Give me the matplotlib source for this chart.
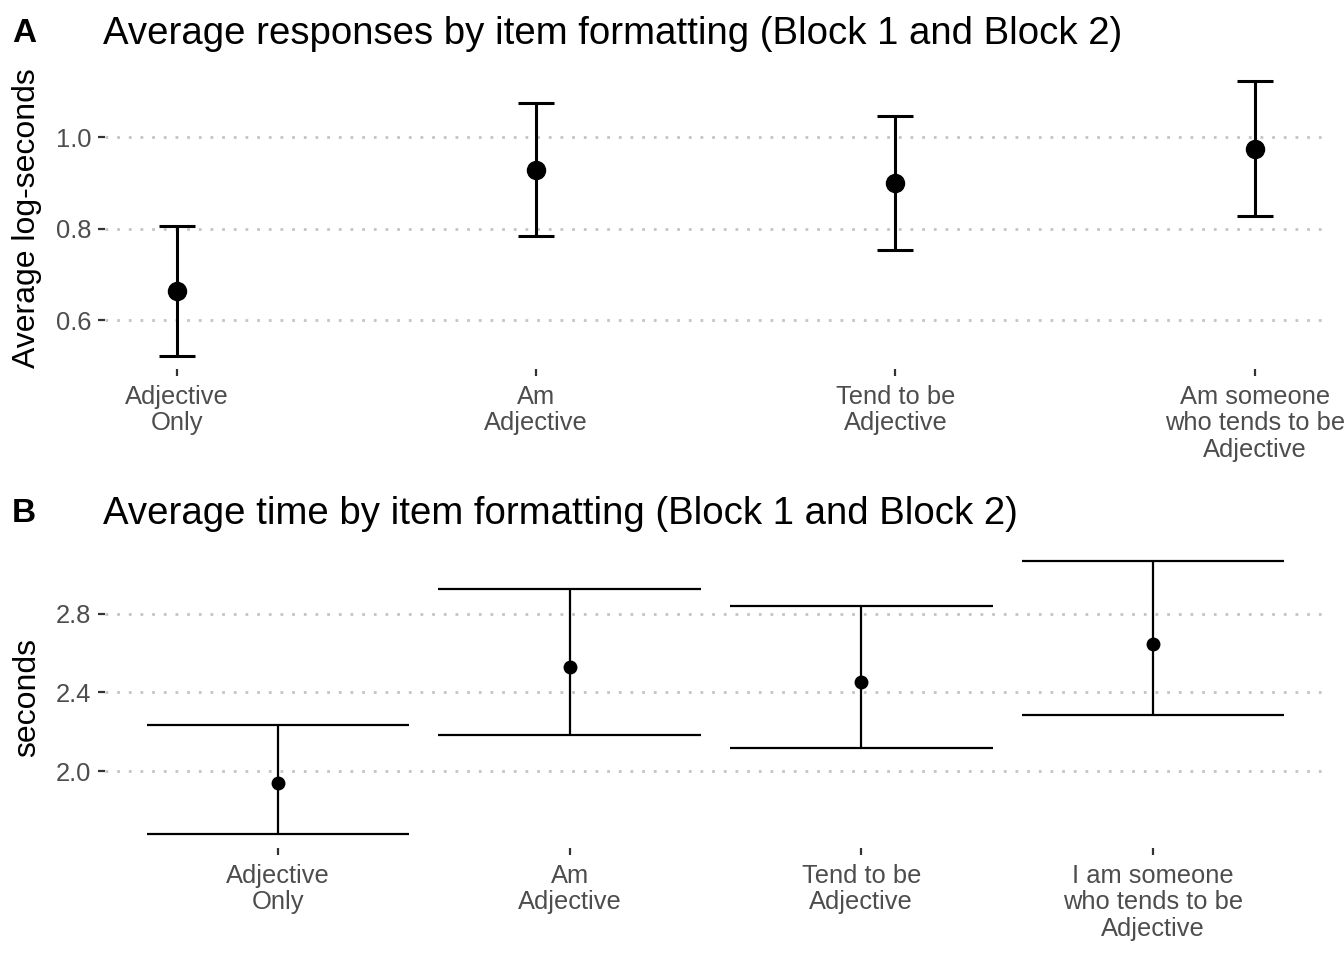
import matplotlib
matplotlib.use("Agg")
import matplotlib.pyplot as plt

plt.rcParams['font.family'] = ['Liberation Sans', 'DejaVu Sans']

# panel A: log-seconds
labels_a = ["Adjective\nOnly", "Am\nAdjective", "Tend to be\nAdjective",
            "Am someone\nwho tends to be\nAdjective"]
mean_a = [0.663, 0.929, 0.900, 0.974]
low_a = [0.522, 0.785, 0.753, 0.828]
high_a = [0.806, 1.074, 1.045, 1.122]

# panel B: seconds
labels_b = ["Adjective\nOnly", "Am\nAdjective", "Tend to be\nAdjective",
            "I am someone\nwho tends to be\nAdjective"]
mean_b = [1.939, 2.527, 2.452, 2.648]
low_b = [1.681, 2.187, 2.120, 2.284]
high_b = [2.233, 2.922, 2.840, 3.068]

W, H = 1344, 960
fig = plt.figure(figsize=(W / 100, H / 100), dpi=100)


def px_axes(left, top, right, bottom):
    return fig.add_axes([left / W, 1 - bottom / H, (right - left) / W, (bottom - top) / H])


def style(ax, yticks, ylabel):
    for s in ax.spines.values():
        s.set_visible(False)
    ax.set_yticks(yticks)
    ax.set_yticklabels([f"{t:.1f}" for t in yticks])
    ax.yaxis.grid(True, color="#c4c4c4", linestyle=(0, (1, 3.2)), linewidth=2.0)
    ax.xaxis.grid(False)
    ax.set_axisbelow(True)
    ax.tick_params(axis="both", length=5, width=1.6, color="#333333",
                   labelsize=18.4, labelcolor="#4d4d4d")
    ax.tick_params(axis="y", pad=5)
    ax.tick_params(axis="x", pad=6.5)
    ax.set_ylabel(ylabel, fontsize=23, color="black")
    ax.yaxis.set_label_coords(-0.0515, 0.5)
    for t in ax.get_xticklabels():
        t.set_linespacing(1.12)


x = list(range(len(labels_a)))

# --- panel A
ax1 = px_axes(105, 67.5, 1323, 369)
yerr_a = [[m - l for m, l in zip(mean_a, low_a)], [h - m for m, h in zip(mean_a, high_a)]]
ax1.errorbar(x, mean_a, yerr=yerr_a, fmt="o", color="black", ms=13, elinewidth=2.2,
             capsize=0, zorder=3)
for xi, lo, hi in zip(x, low_a, high_a):
    ax1.hlines([lo, hi], xi - 0.05, xi + 0.05, color="black", lw=2.2, zorder=3)
ax1.set_xlim(-0.2, 3.19)
ax1.set_ylim(0.4936, 1.152)
ax1.set_xticks(x)
ax1.set_xticklabels(labels_a)
style(ax1, [0.6, 0.8, 1.0], "Average log-seconds")

# --- panel B
ax2 = px_axes(105, 547, 1323, 848)
yerr_b = [[m - l for m, l in zip(mean_b, low_b)], [h - m for m, h in zip(mean_b, high_b)]]
ax2.errorbar(x, mean_b, yerr=yerr_b, fmt="o", color="black", ms=9, elinewidth=1.6,
             capsize=0, zorder=3)
for xi, lo, hi in zip(x, low_b, high_b):
    ax2.hlines([lo, hi], xi - 0.45, xi + 0.45, color="black", lw=1.6, zorder=3)
ax2.set_xlim(-0.593, 3.583)
ax2.set_ylim(1.612, 3.137)
ax2.set_xticks(x)
ax2.set_xticklabels(labels_b)
style(ax2, [2.0, 2.4, 2.8], "seconds")

# titles and panel tags
fig.text(103 / W, 1 - 44 / H, "Average responses by item formatting (Block 1 and Block 2)",
         fontsize=27.6, va="baseline", ha="left")
fig.text(12 / W, 1 - 42 / H, "A", fontsize=24, fontweight="bold", va="baseline", ha="left")
fig.text(103 / W, 1 - 524 / H, "Average time by item formatting (Block 1 and Block 2)",
         fontsize=27.6, va="baseline", ha="left")
fig.text(12 / W, 1 - 522 / H, "B", fontsize=24, fontweight="bold", va="baseline", ha="left")

fig.savefig("out.png", dpi=100, facecolor="white")
